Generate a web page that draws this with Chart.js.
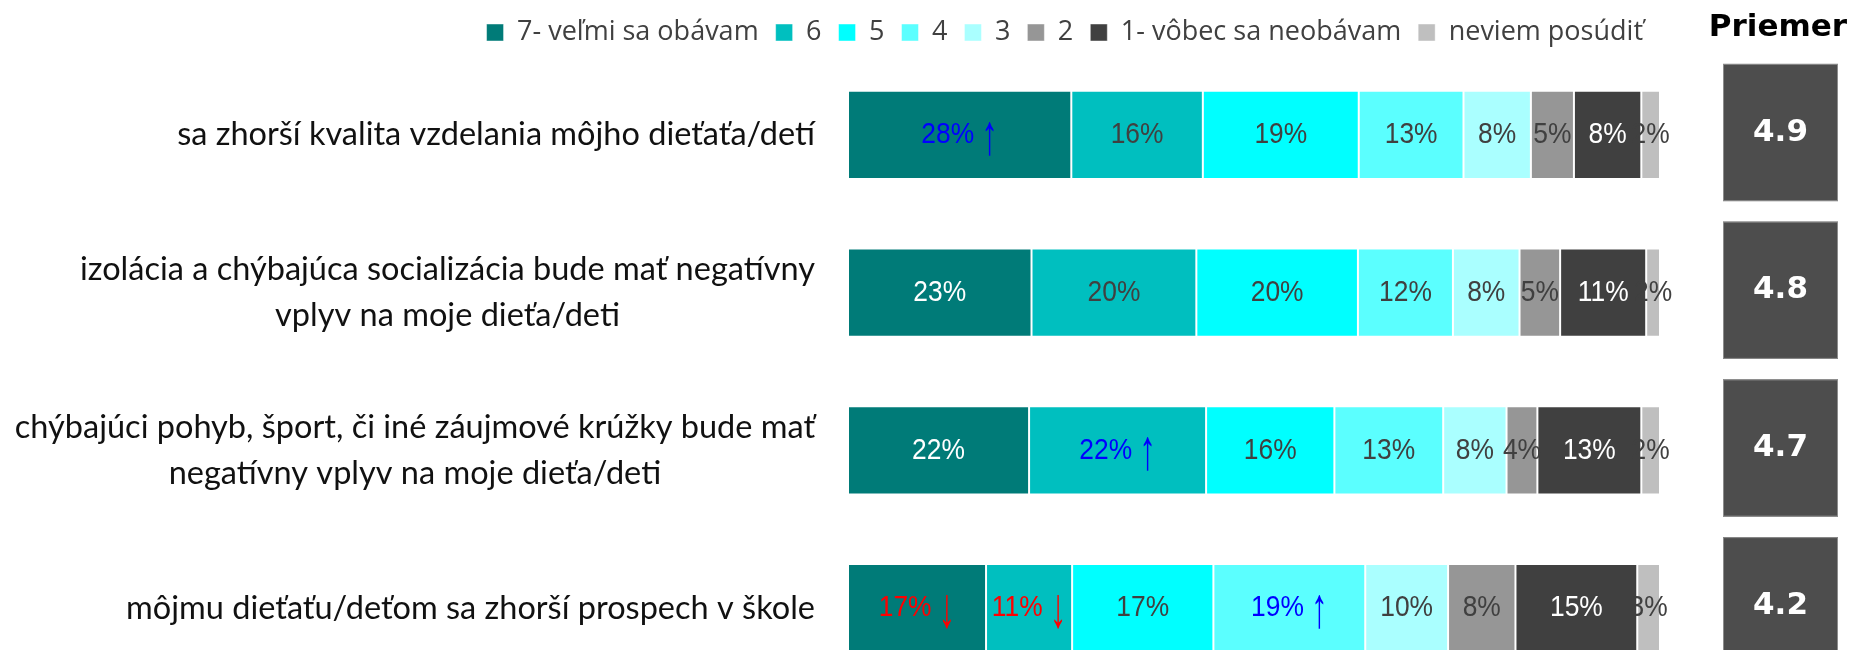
<!DOCTYPE html>
<html>
<head>
<meta charset="utf-8">
<script src="https://cdn.jsdelivr.net/npm/chart.js@4/dist/chart.umd.min.js"></script>
<style>
  html, body { margin: 0; padding: 0; background: #fff; overflow: hidden; }
  #wrap { position: relative; width: 1853px; height: 700px; }
</style>
</head>
<body>
<div id="wrap"><canvas id="graf"></canvas></div>
<script>
// Otázky (kategórie)
const otazky = [
  'sa zhorší kvalita vzdelania môjho dieťaťa/detí',
  ['izolácia a chýbajúca socializácia bude mať negatívny', 'vplyv na moje dieťa/deti'],
  ['chýbajúci pohyb, šport, či iné záujmové krúžky bude mať', 'negatívny vplyv na moje dieťa/deti'],
  'môjmu dieťaťu/deťom sa zhorší prospech v škole'
];

// Názvy odpovedí (legenda)
const odpovede = ['7- veľmi sa obávam', '6', '5', '4', '3', '2', '1- vôbec sa neobávam', 'neviem posúdiť'];

// Podiely v % pre každú odpoveď (po riadkoch)
const hodnoty7 = [27.5, 22.6, 22.3, 17.0];
const hodnoty6 = [16.2, 20.3, 21.8, 10.6];
const hodnoty5 = [19.2, 19.9, 15.8, 17.4];
const hodnoty4 = [12.9, 11.7, 13.4, 18.7];
const hodnoty3 = [8.3, 8.2, 7.8, 10.2];
const hodnoty2 = [5.3, 5.0, 3.8, 8.3];
const hodnoty1 = [8.3, 10.6, 12.8, 15.0];
const hodnotyNeviem = [2.3, 1.7, 2.3, 2.8];

// Významné posuny (šípky) pre každý riadok a odpoveď
const trend = [
  ['hore', '', '', '', '', '', '', ''],
  ['', '', '', '', '', '', '', ''],
  ['', 'hore', '', '', '', '', '', ''],
  ['dole', 'dole', '', 'hore', '', '', '', '']
];

// Priemerné hodnotenie
const priemer = [4.9, 4.8, 4.7, 4.2];

const farby = ['#007B78', '#00BFBF', '#00FFFF', '#5BFFFF', '#AAFFFF', '#969696', '#404040', '#BFBFBF'];
const farbyTextu = ['#FFFFFF', '#404040', '#404040', '#404040', '#404040', '#404040', '#FFFFFF', '#404040'];

const vsetkyHodnoty = [hodnoty7, hodnoty6, hodnoty5, hodnoty4, hodnoty3, hodnoty2, hodnoty1, hodnotyNeviem];

const datasety = vsetkyHodnoty.map((h, i) => ({
  label: odpovede[i],
  data: h,
  backgroundColor: farby[i],
  borderColor: 'rgba(255,255,255,0.45)',
  borderWidth: 1,
  borderSkipped: false,
  farbaTextu: farbyTextu[i],
  barPercentage: 0.56,
  categoryPercentage: 1
}));

// Plugin: popisky v segmentoch, názvy otázok a stĺpec "Priemer"
const popisky = {
  id: 'popisky',
  afterDatasetsDraw(chart) {
    const ctx = chart.ctx;
    const area = chart.chartArea;
    const y = chart.scales.y;

    ctx.save();
    ctx.textBaseline = 'middle';
    const fontCislo = '30px "Liberation Sans", Arial, sans-serif';
    const fontSipka = '38px "Liberation Sans", Arial, sans-serif';
    chart.data.datasets.forEach((ds, di) => {
      chart.getDatasetMeta(di).data.forEach((bar, i) => {
        const txt = Math.round(ds.data[i]) + '%';
        let sipka = '';
        let farba = ds.farbaTextu;
        if (trend[i][di] === 'hore') { sipka = '↑'; farba = '#0000FF'; }
        if (trend[i][di] === 'dole') { sipka = '↓'; farba = '#FF0000'; }
        ctx.font = fontCislo;
        const w1 = ctx.measureText(txt).width;
        const medzera = sipka ? 8 : 0;
        ctx.font = fontSipka;
        const w2 = sipka ? ctx.measureText(sipka).width : 0;
        const spolu = w1 + medzera + w2;
        ctx.save();
        ctx.translate((bar.base + bar.x) / 2, bar.y);
        ctx.scale(0.88, 1);
        ctx.fillStyle = farba;
        ctx.textAlign = 'left';
        ctx.font = fontCislo;
        ctx.fillText(txt, -spolu / 2, 0);
        if (sipka) {
          ctx.translate(-spolu / 2 + w1 + medzera, 3);
          ctx.scale(1, 1.5);
          ctx.font = fontSipka;
          ctx.fillText(sipka, 0, 0);
        }
        ctx.restore();
      });
    });

    // názvy otázok vľavo
    ctx.textAlign = 'center';
    ctx.font = '32.5px Lato, sans-serif';
    ctx.fillStyle = '#111111';
    const vyskaRiadku = 46;
    otazky.forEach((o, i) => {
      const riadky = Array.isArray(o) ? o : [o];
      const sirka = Math.max(...riadky.map(r => ctx.measureText(r).width));
      const stred = area.left - 33 - sirka / 2;
      const cy = y.getPixelForValue(i);
      riadky.forEach((r, k) => {
        ctx.fillText(r, stred, cy + (k - (riadky.length - 1) / 2) * vyskaRiadku);
      });
    });

    // Priemer
    const x0 = area.right + 63;
    const x1 = area.right + 178;
    const krok = y.height / otazky.length;
    ctx.font = 'bold 31px "DejaVu Sans", sans-serif';
    ctx.fillStyle = '#000000';
    ctx.fillText('Priemer', area.right + 118, 28);
    priemer.forEach((p, i) => {
      const cy = y.getPixelForValue(i);
      const top = cy - krok * 0.45;
      const bottom = cy + krok * 0.42;
      ctx.fillStyle = '#4D4D4D';
      ctx.fillRect(x0, top, x1 - x0, bottom - top);
      ctx.strokeStyle = '#8C8C8C';
      ctx.lineWidth = 1;
      ctx.strokeRect(x0 + 0.5, top + 0.5, x1 - x0 - 1, bottom - top - 1);
      ctx.fillStyle = '#FFFFFF';
      ctx.font = 'bold 31px "DejaVu Sans", sans-serif';
      ctx.fillText(p.toFixed(1), (x0 + x1) / 2, (top + bottom) / 2);
    });
    ctx.restore();
  }
};

new Chart(document.getElementById('graf'), {
  type: 'bar',
  data: { labels: otazky, datasets: datasety },
  plugins: [popisky],
  options: {
    indexAxis: 'y',
    responsive: true,
    maintainAspectRatio: false,
    animation: false,
    layout: { padding: { left: 0, right: 193, top: 2, bottom: 13 } },
    scales: {
      x: { stacked: true, min: 0, max: 100, display: false },
      y: {
        stacked: true,
        ticks: { display: false },
        grid: { display: false },
        border: { display: false },
        afterFit(s) { s.width = 848; }
      }
    },
    plugins: {
      tooltip: { enabled: false },
      legend: {
        position: 'top',
        align: 'end',
        labels: {
          boxWidth: 17,
          boxHeight: 17,
          padding: 17,
          color: '#404040',
          font: { family: 'Open Sans', size: 27 }
        }
      }
    }
  }
});
</script>
</body>
</html>
